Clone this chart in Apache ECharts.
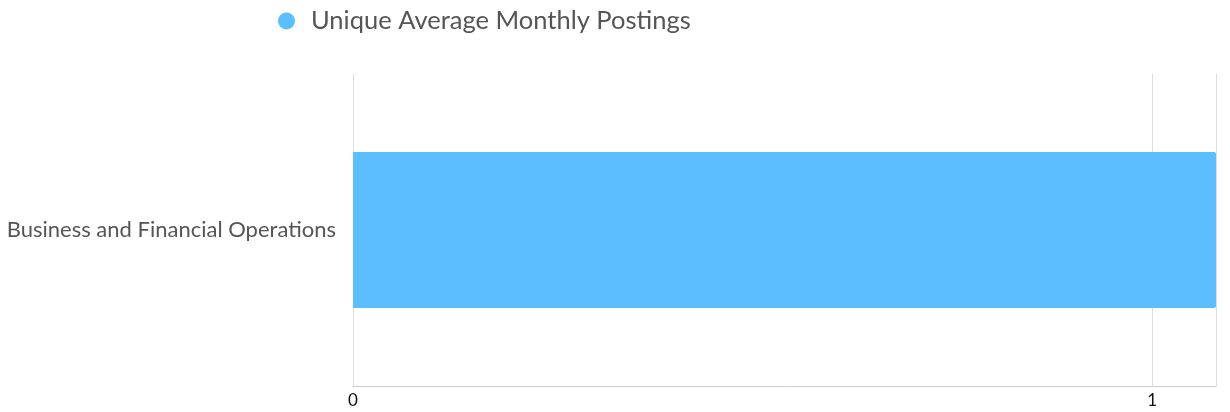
<!DOCTYPE html>
<html>
<head>
<meta charset="utf-8">
<script src="https://cdn.jsdelivr.net/npm/echarts@6/dist/echarts.min.js"></script>
<style>
html,body{margin:0;padding:0;background:#fff;}
#chart{width:1230px;height:412px;}
</style>
</head>
<body>
<div id="chart"></div>
<script>
var categories = ['Business and Financial Operations'];
var seriesName = 'Unique Average Monthly Postings';
var seriesValues = [1.08];

var chart = echarts.init(document.getElementById('chart'));
chart.setOption({
  animation: false,
  textStyle: { fontFamily: 'Lato' },
  legend: {
    data: [seriesName],
    left: 278,
    top: 8,
    padding: 0,
    icon: 'circle',
    itemWidth: 17,
    itemHeight: 17,
    textStyle: { fontFamily: 'Lato', fontSize: 25.5, color: '#555', padding: [0, 0, 0, 11] }
  },
  grid: { left: 353, right: 14, top: 74, bottom: 26, containLabel: false },
  xAxis: {
    type: 'value',
    min: 0,
    max: 'dataMax',
    interval: 1,
    axisLine: { show: true, lineStyle: { color: '#ccc', width: 1 } },
    axisTick: { show: false },
    splitLine: { show: true, lineStyle: { color: '#ddd', width: 1 } },
    axisLabel: { color: '#111', fontSize: 17, fontFamily: 'Lato', margin: 6, showMaxLabel: false }
  },
  yAxis: {
    type: 'category',
    data: categories,
    inverse: true,
    axisLine: { show: false },
    axisTick: { show: false },
    axisLabel: { color: '#555', fontSize: 22, fontFamily: 'Lato', margin: 17 }
  },
  series: [{
    name: seriesName,
    type: 'bar',
    data: seriesValues,
    barWidth: '50%',
    itemStyle: { color: '#5cbdff', borderRadius: [0, 2, 2, 0] }
  }]
});
</script>
</body>
</html>
